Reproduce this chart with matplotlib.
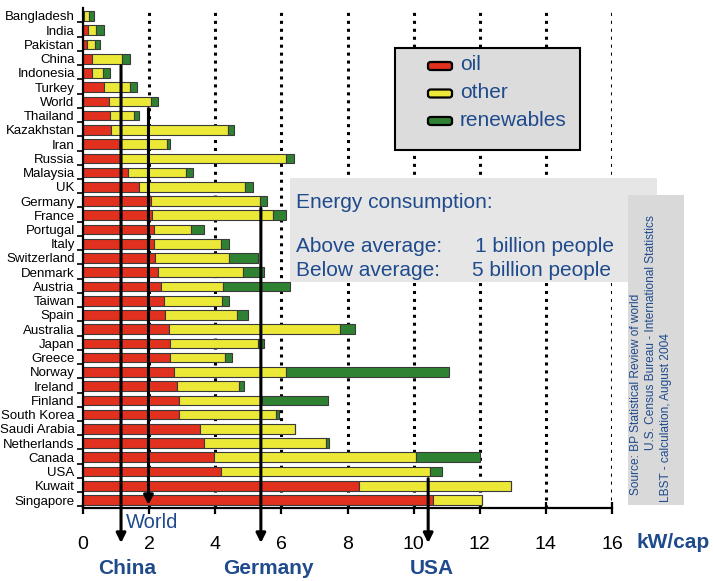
import matplotlib
matplotlib.use("Agg")
import matplotlib.pyplot as plt
from matplotlib.patches import Rectangle, FancyBboxPatch
import numpy as np

plt.rcParams['font.family'] = ['Liberation Sans', 'DejaVu Sans']

countries = ["Bangladesh", "India", "Pakistan", "China", "Indonesia", "Turkey", "World",
             "Thailand", "Kazakhstan", "Iran", "Russia", "Malaysia", "UK", "Germany", "France",
             "Portugal", "Italy", "Switzerland", "Denmark", "Austria", "Taiwan", "Spain",
             "Australia", "Japan", "Greece", "Norway", "Ireland", "Finland", "South Korea",
             "Saudi Arabia", "Netherlands", "Canada", "USA", "Kuwait", "Singapore"]
oil = [0.04, 0.14, 0.12, 0.28, 0.28, 0.63, 0.80, 0.83, 0.86, 1.10, 1.15, 1.36, 1.68, 2.06, 2.09,
       2.14, 2.14, 2.19, 2.27, 2.36, 2.44, 2.48, 2.59, 2.62, 2.62, 2.76, 2.84, 2.91, 2.91,
       3.55, 3.67, 3.96, 4.17, 8.35, 10.60]
other = [0.13, 0.26, 0.25, 0.91, 0.32, 0.80, 1.26, 0.70, 3.52, 1.44, 5.00, 1.77, 3.23, 3.28, 3.66,
         1.13, 2.03, 2.23, 2.56, 1.87, 1.75, 2.19, 5.19, 2.66, 1.69, 3.38, 1.89, 2.50, 2.92,
         2.87, 3.68, 6.11, 6.33, 4.60, 1.47]
renewables = [0.15, 0.23, 0.13, 0.24, 0.21, 0.20, 0.20, 0.16, 0.20, 0.08, 0.22, 0.19, 0.22, 0.22, 0.40,
              0.40, 0.24, 0.86, 0.63, 2.02, 0.22, 0.33, 0.45, 0.18, 0.20, 4.93, 0.13, 2.00, 0.09,
              0.00, 0.09, 1.93, 0.36, 0.00, 0.00]
series_names = ["oil", "other", "renewables"]
series_colors = ["#e2301f", "#ece838", "#2f8231"]

marker_names = ["China", "World", "Germany", "USA"]
marker_values = [1.15, 1.98, 5.38, 10.44]

xticks = [0, 2, 4, 6, 8, 10, 12, 14, 16]

W, H = 713, 581
fig = plt.figure(figsize=(W / 100, H / 100), dpi=100)
ax = fig.add_axes([83 / W, 1 - 508 / H, (612 - 83) / W, (508 - 8) / H])

y = np.arange(len(countries))
left = np.zeros(len(countries))
for vals, col in zip([oil, other, renewables], series_colors):
    ax.barh(y, vals, left=left, height=0.68, color=col, edgecolor="#3a3a3a",
            linewidth=0.8, zorder=2)
    left = left + np.array(vals)

ax.set_xlim(0, 16)
ax.set_ylim(len(countries) - 1 + 0.56, -0.56)

for xv in xticks[1:]:
    ax.axvline(xv, color="black", linestyle=(0, (1, 1.6)), linewidth=2.2, zorder=1)

ax.set_xticks(xticks)
ax.set_xticklabels([str(v) for v in xticks], fontsize=14)
ax.tick_params(axis="x", direction="inout", length=9, width=1.6, pad=16)

ax.set_yticks(y)
ax.set_yticklabels(countries, fontsize=9.5)
ax.tick_params(axis="y", which="major", length=0, pad=6)
ax.set_yticks(y + 0.45, minor=True)
ax.tick_params(axis="y", which="minor", length=4, width=1.2, direction="out")

for s in ["top", "right"]:
    ax.spines[s].set_visible(False)
for s in ["left", "bottom"]:
    ax.spines[s].set_linewidth(1.6)

# average arrows
row_of = {c: i for i, c in enumerate(countries)}
ybot = len(countries) - 1 + 0.56
for name, xv in zip(marker_names, marker_values):
    y0 = row_of[name] + 0.5
    y1 = ybot + (35 if name != "World" else -3) / 14.235
    ax.annotate("", xy=(xv, y1), xytext=(xv, y0),
                arrowprops=dict(arrowstyle="-|>", color="black", lw=2.2,
                                mutation_scale=14, shrinkA=0, shrinkB=0),
                annotation_clip=False, zorder=5)

blue = "#1f4a8c"
fig.text(126 / W, 1 - 522 / H, "World", color=blue, fontsize=14.5, ha="left", va="center")
for name, xc in zip(["China", "Germany", "USA"], [127, 268, 432]):
    fig.text(xc / W, 1 - 568 / H, name, color=blue, fontsize=15, fontweight="bold",
             ha="center", va="center")
fig.text(637 / W, 1 - 542 / H, "kW/cap", color=blue, fontsize=15, fontweight="bold",
         ha="left", va="center")

# legend box (manual)
fig.add_artist(Rectangle((395 / W, 1 - 150 / H), 185 / W, 102 / H, transform=fig.transFigure,
                         facecolor="#dcdcdc", edgecolor="black", linewidth=1.5, zorder=6))
for i, (nm, col) in enumerate(zip(series_names, series_colors)):
    yc = 66 + i * 27.5
    fig.add_artist(FancyBboxPatch((428 / W, 1 - (yc + 4) / H), 24 / W, 8 / H,
                                  boxstyle="round,pad=0,rounding_size=0.004",
                                  transform=fig.transFigure, facecolor=col,
                                  edgecolor="black", linewidth=1.6, zorder=7))
    fig.text(460 / W, 1 - (yc - 1) / H, nm, color=blue, fontsize=15, ha="left",
             va="center", zorder=8)

# energy consumption box
fig.add_artist(Rectangle((290 / W, 1 - 282 / H), 367 / W, 104 / H, transform=fig.transFigure,
                         facecolor="#e6e6e6", edgecolor="none", zorder=6))
fig.text(296 / W, 1 - 203 / H, "Energy consumption:", color=blue, fontsize=15,
         ha="left", va="center", zorder=8)
fig.text(296 / W, 1 - 246 / H, "Above average:", color=blue, fontsize=15,
         ha="left", va="center", zorder=8)
fig.text(475 / W, 1 - 246 / H, "1 billion people", color=blue, fontsize=15,
         ha="left", va="center", zorder=8)
fig.text(296 / W, 1 - 270 / H, "Below average:", color=blue, fontsize=15,
         ha="left", va="center", zorder=8)
fig.text(472 / W, 1 - 270 / H, "5 billion people", color=blue, fontsize=15,
         ha="left", va="center", zorder=8)

# source box
fig.add_artist(Rectangle((628 / W, 1 - 505 / H), 56 / W, 310 / H, transform=fig.transFigure,
                         facecolor="#d9d9d9", edgecolor="none", zorder=6))
fig.text(636 / W, 1 - 495 / H, "Source: BP Statistical Review of world", color=blue,
         fontsize=8.6, rotation=90, ha="center", va="bottom", zorder=8)
fig.text(651 / W, 1 - 450 / H, "U.S. Census Bureau - International Statistics", color=blue,
         fontsize=8.6, rotation=90, ha="center", va="bottom", zorder=8)
fig.text(666 / W, 1 - 502 / H, "LBST - calculation, August 2004", color=blue,
         fontsize=8.6, rotation=90, ha="center", va="bottom", zorder=8)

fig.savefig("out.png", dpi=100)
